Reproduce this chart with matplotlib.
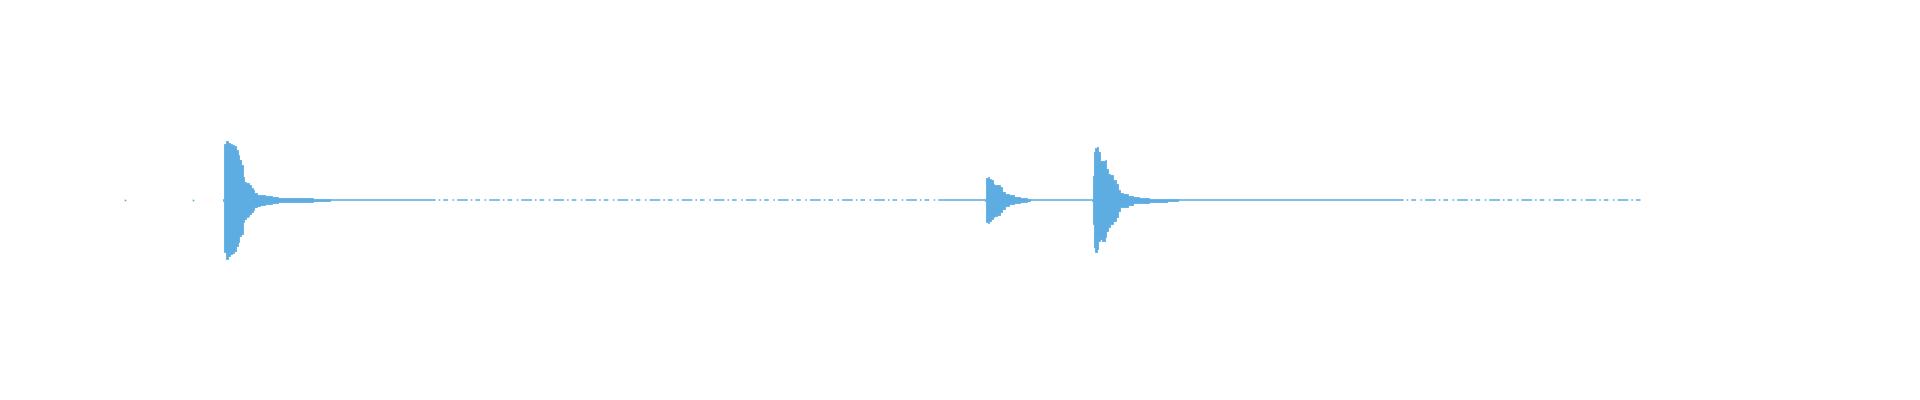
import matplotlib
matplotlib.use("Agg")
import matplotlib.pyplot as plt

WAVE_COLOR = "#5DADE2"

# envelope of each burst (time in seconds, upper / lower amplitude)
burst1_t = [0.98, 1.00, 1.017, 1.033, 1.06, 1.083, 1.10, 1.117, 1.133, 1.15, 1.167, 1.183, 1.20,
            1.217, 1.233, 1.25, 1.267, 1.283, 1.30, 1.333, 1.367, 1.433, 1.50, 1.567, 1.70, 2.05]
burst1_hi = [0.004, 0.281, 0.293, 0.286, 0.281, 0.273, 0.268, 0.248, 0.223, 0.198, 0.173, 0.114, 0.089,
             0.083, 0.083, 0.073, 0.058, 0.048, 0.036, 0.026, 0.023, 0.018, 0.013, 0.009, 0.008, 0.004]
burst1_lo = [-0.004, -0.261, -0.293, -0.278, -0.268, -0.263, -0.253, -0.228, -0.211, -0.178, -0.168, -0.111, -0.093,
             -0.086, -0.078, -0.068, -0.058, -0.048, -0.036, -0.028, -0.023, -0.019, -0.014, -0.011, -0.008, -0.004]

burst2_t = [8.60, 8.61, 8.62, 8.633, 8.65, 8.667, 8.683, 8.70, 8.733, 8.757, 8.777, 8.817, 8.867,
            8.917, 8.983, 9.05]
burst2_hi = [0.004, 0.064, 0.111, 0.114, 0.106, 0.098, 0.081, 0.073, 0.073, 0.064, 0.039, 0.031, 0.023,
             0.014, 0.008, 0.004]
burst2_lo = [-0.004, -0.069, -0.111, -0.116, -0.103, -0.094, -0.086, -0.078, -0.073, -0.061, -0.044, -0.028, -0.019,
             -0.013, -0.009, -0.004]

burst3_t = [9.67, 9.683, 9.693, 9.71, 9.727, 9.74, 9.757, 9.783, 9.807, 9.82, 9.84, 9.867, 9.90,
            9.917, 9.933, 9.967, 10.00, 10.05, 10.10, 10.183, 10.30, 10.53]
burst3_hi = [0.004, 0.118, 0.239, 0.261, 0.264, 0.239, 0.194, 0.194, 0.201, 0.156, 0.131, 0.123, 0.098,
             0.081, 0.048, 0.036, 0.028, 0.018, 0.014, 0.009, 0.006, 0.004]
burst3_lo = [-0.004, -0.119, -0.236, -0.261, -0.244, -0.203, -0.194, -0.203, -0.186, -0.153, -0.133, -0.119, -0.103,
             -0.083, -0.056, -0.036, -0.033, -0.023, -0.016, -0.013, -0.008, -0.004]

# low-level noise between the bursts
quiet_solid = [(2.05, 3.00), (8.22, 8.60), (9.05, 9.67), (10.53, 12.68)]
quiet_sparse = [(3.00, 8.22), (12.68, 15.20)]
lone_samples = [0.0, 0.68]

fig = plt.figure(figsize=(19.2, 4), dpi=100)
ax = fig.add_axes([0, 0, 1, 1])

for t, hi, lo in [(burst1_t, burst1_hi, burst1_lo),
                  (burst2_t, burst2_hi, burst2_lo),
                  (burst3_t, burst3_hi, burst3_lo)]:
    ax.fill_between(t, lo, hi, step="mid", color=WAVE_COLOR, linewidth=0.6, edgecolor=WAVE_COLOR)

for a, b in quiet_solid:
    ax.hlines(0, a, b, color=WAVE_COLOR, linewidth=1.1)
for a, b in quiet_sparse:
    ax.hlines(0, a, b, color=WAVE_COLOR, linewidth=1.1, linestyles=(0, (7, 2, 1, 2, 3, 3, 1, 2)))

ax.plot(lone_samples, [0] * len(lone_samples), "s", color=WAVE_COLOR, markersize=1.2, markeredgewidth=0)

ax.set_xlim(-1.25, 17.95)
ax.set_ylim(-1, 1)
ax.axis("off")

fig.savefig("out.png", dpi=100, facecolor="white")
